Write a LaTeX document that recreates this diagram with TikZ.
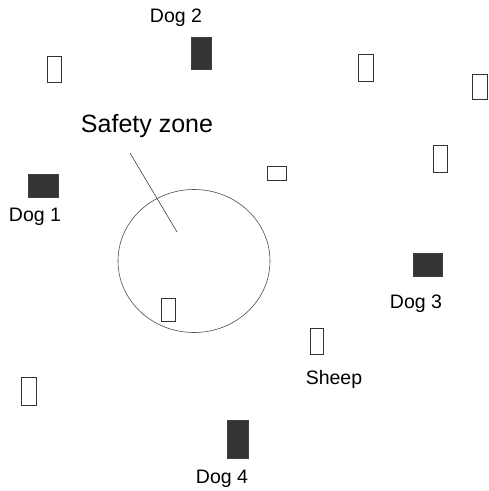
\documentclass[tikz,border=0pt]{standalone}
\usepackage{fontspec}
\setmainfont{Liberation Sans}
\usepackage{tikz}
\usetikzlibrary{positioning,shapes.geometric}
\tikzstyle{sheep} = [rectangle, minimum width=14pt, minimum height=26pt, inner sep=0pt, draw=black!80, line width=0.8pt, fill=white]
\tikzstyle{dog} = [rectangle, minimum width=30pt, minimum height=23pt, inner sep=0pt, fill=black!80, draw=black!75, line width=0.6pt]
\tikzstyle{tag} = [inner sep=0pt, font=\fontsize{19.5}{22}\selectfont]
\begin{document}
\begin{tikzpicture}[x=1pt, y=-1pt]
			\useasboundingbox (0,0) rectangle (489,491);
			
			% safety zone
			\node [draw=black!70, line width=0.6pt, ellipse, minimum width=152pt, minimum height=143pt, inner sep=0pt] (zone) at (194,261) {};
			\node [inner sep=0pt, font=\fontsize{25}{28}\selectfont] (zonelabel) at (147,126) {Safety zone};
			\coordinate (zonetop) at (130,153);
			\coordinate (zonept) at (177,232);
			
			% dogs
			\node [dog] (dog1) at (43,186) {};
			\node [dog, minimum width=20pt, minimum height=32pt] (dog2) at (201,53) {};
			\node [dog, minimum width=29pt] (dog3) at (428,265) {};
			\node [dog, minimum width=21pt, minimum height=38pt] (dog4) at (238,439) {};
			
			\node [tag] (doglabel1) at (35,217) {Dog 1};
			\node [tag] (doglabel2) at (176,18) {Dog 2};
			\node [tag] (doglabel3) at (416,304) {Dog 3};
			\node [tag] (doglabel4) at (222,479) {Dog 4};
			
			% sheep
			\node [sheep] (sheep1) at (54,69) {};
			\node [sheep, minimum width=15pt, minimum height=27pt] (sheep2) at (366,68) {};
			\node [sheep, minimum width=15pt, minimum height=25pt] (sheep3) at (480,87) {};
			\node [sheep, minimum height=27pt] (sheep4) at (440,159) {};
			\node [sheep, minimum width=19pt, minimum height=14pt] (sheep5) at (277,173) {};
			\node [sheep, minimum height=23pt] (sheep6) at (168,310) {};
			\node [sheep, minimum width=13pt] (sheep7) at (317,341) {};
			\node [sheep, minimum width=15pt, minimum height=28pt] (sheep8) at (29,391) {};
			
			\node [tag, below=16pt of sheep7.south, xshift=17pt] (sheeplabel) {Sheep};
			
			\draw [black!75, line width=0.6pt] (zonetop) -- (zonept);
			
		\end{tikzpicture}
\end{document}
